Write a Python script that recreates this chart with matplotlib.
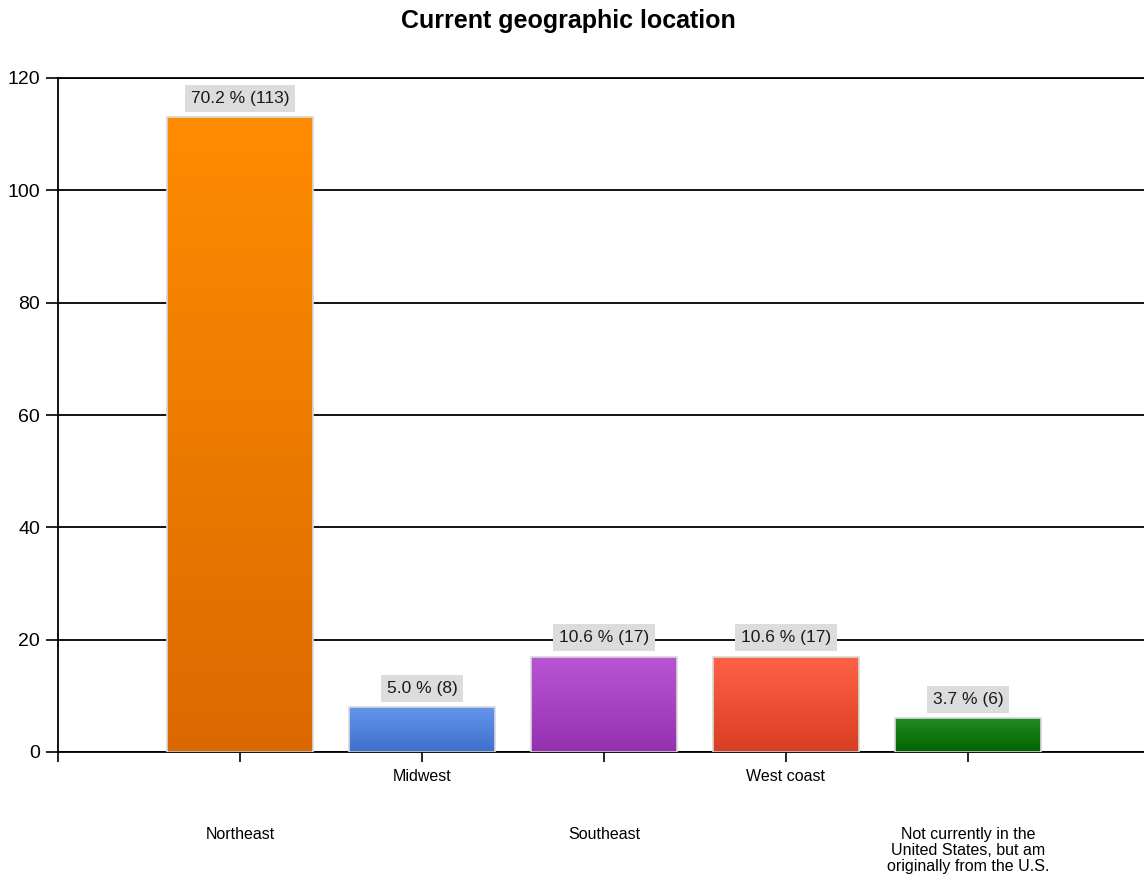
import numpy as np
import matplotlib
matplotlib.use("Agg")
import matplotlib.pyplot as plt
from matplotlib.colors import LinearSegmentedColormap

# Daten
categories = ["Northeast", "Midwest", "Southeast", "West coast",
              "Not currently in the\nUnited States, but am\noriginally from the U.S."]
counts = [113, 8, 17, 17, 6]
percents = [70.2, 5.0, 10.6, 10.6, 3.7]

# Farben (oben hell, unten dunkel)
top_colors = ["#FF8C00", "#6495ED", "#BA55D3", "#FF6347", "#228B22"]
bottom_colors = ["#DA6A00", "#3F6FCB", "#9530AE", "#DA3E22", "#006400"]

plt.rcParams['font.family'] = ['Liberation Sans', 'DejaVu Sans']

fig = plt.figure(figsize=(11.44, 8.82), dpi=100)
ax = fig.add_axes([58 / 1144, 130 / 882, 1 - 58 / 1144, 674 / 882])

x = np.arange(len(categories))
bars = ax.bar(x, counts, width=0.8, color="none", edgecolor="#D9D9D9", linewidth=1.2, zorder=3)

# Verlauf in jedem Balken
for b, c1, c2 in zip(bars, top_colors, bottom_colors):
    cmap = LinearSegmentedColormap.from_list("g", [c2, c1])
    grad = np.linspace(0, 1, 256).reshape(-1, 1)
    x0, y0 = b.get_x(), b.get_y()
    im = ax.imshow(grad, cmap=cmap, origin="lower", aspect="auto",
                   extent=[x0, x0 + b.get_width(), y0, y0 + b.get_height()], zorder=2)
    im.set_clip_path(b)

# Beschriftungen
for xi, c, p in zip(x, counts, percents):
    ax.annotate(f"{p:.1f} % ({c})", xy=(xi, c), xytext=(0, 8), textcoords="offset points",
                ha="center", va="bottom", fontsize=12.5, color="#1a1a1a", zorder=4,
                bbox=dict(boxstyle="square,pad=0.35", fc="#DCDCDC", ec="none"))

ax.set_xlim(-1, (1144 - 58) / 182 - 1)
ax.set_ylim(0, 120)
ax.set_yticks(np.arange(0, 121, 20))
ax.yaxis.grid(True, color="black", linewidth=1.3, zorder=1)
ax.set_axisbelow(True)
ax.tick_params(axis="y", length=9, width=1.2, labelsize=14, pad=4, color="black")

ax.set_xticks(np.arange(-1, len(categories)))
ax.set_xticklabels([])
ax.tick_params(axis="x", length=7, width=1.2, color="black")

for i, name in enumerate(categories):
    off = -12 if i % 2 == 1 else -54
    ax.annotate(name, xy=(i, 0), xycoords=("data", "axes fraction"), xytext=(0, off),
                textcoords="offset points", ha="center", va="top", fontsize=11.5,
                linespacing=1.1)

ax.spines["right"].set_visible(False)
for s in ["left", "bottom", "top"]:
    ax.spines[s].set_linewidth(1.3)

fig.text(568 / 1144, 1 - 21 / 882, "Current geographic location", ha="center", va="center",
         fontsize=18, fontweight="bold")

fig.savefig("out.png", dpi=100)
